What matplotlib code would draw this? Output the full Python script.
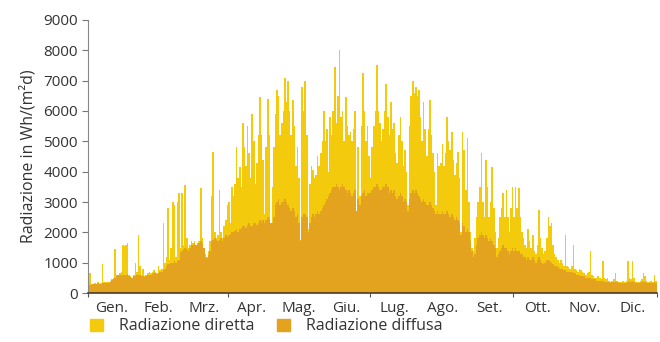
# daily global and diffuse radiation over one year, stacked as filled steps
import numpy as np
import matplotlib.pyplot as plt
from matplotlib.patches import Patch

plt.rcParams['font.family'] = ['Open Sans', 'DejaVu Sans']

mesi = ['Gen.', 'Feb.', 'Mrz.', 'Apr.', 'Mag.', 'Giu.',
        'Lug.', 'Ago.', 'Set.', 'Ott.', 'Nov.', 'Dic.']
giorni_mese = [31, 28, 31, 30, 31, 30, 31, 31, 30, 31, 30, 31]

# top of each daily bar (diretta + diffusa), Wh/(m2 d)
totale = [
    700, 650, 300, 300, 320, 300, 350, 300, 330, 950, 350, 380, 350, 380, 400, 450, 500, 1450, 600, 600,
    650, 700, 1600, 1550, 1600, 1650, 600, 550, 500, 600, 1000,  # gen
    700, 1900, 900, 600, 800, 550, 600, 650, 700, 650, 700, 750, 700, 650, 900, 750, 800, 2300, 1000, 1200,
    2800, 1100, 1500, 3000, 2900, 1200, 3000, 3300,  # feb
    1500, 3300, 1600, 3550, 1800, 1500, 1600, 1700, 1650, 1700, 1600, 1650, 1700, 3450, 1800, 1500, 1300, 1200, 1400, 1700,
    3200, 4650, 2000, 1800, 1900, 3400, 2000, 1800, 2200, 2400, 2900,  # mar
    3000, 2300, 3500, 3200, 3600, 4800, 3800, 4150, 3500, 5600, 4800, 4200, 5500, 4600, 3800, 5900, 5000, 3600, 4300, 5200,
    6450, 5200, 4400, 2600, 4800, 6400, 5200, 2300, 3500, 4800,  # apr
    5900, 6700, 6500, 5200, 5600, 6000, 7100, 6300, 7000, 6000, 5200, 6350, 5500, 4200, 4800, 3800, 1750, 6800, 6000, 7000,
    5200, 2100, 3600, 4200, 4050, 3800, 3900, 4500, 4200, 4600, 5000,  # mag
    6000, 5000, 5400, 4000, 5800, 5200, 6000, 7450, 5600, 6500, 8000, 5800, 6000, 5000, 6450, 5500, 5200, 5300, 5000, 5400,
    6000, 2700, 4800, 3200, 5500, 7250, 6000, 5000, 5500, 4500,  # giu
    3800, 4800, 5500, 6000, 7500, 6000, 5600, 5000, 5400, 6000, 6900, 5800, 5200, 6300, 5400, 5600, 4600, 4300, 5200, 5800,
    5000, 4200, 4700, 4000, 2900, 5500, 6500, 7000, 6600, 6800, 6500,  # lug
    6700, 5800, 5000, 6300, 5400, 4500, 5400, 6350, 5200, 4600, 4000, 2900, 4600, 4200, 4300, 4900, 4200, 4600, 5800, 5000,
    4700, 5300, 4400, 3900, 4300, 4650, 3800, 2000, 5300, 4700, 3400,  # ago
    5100, 3000, 2000, 1500, 1400, 1800, 2500, 3000, 3500, 4600, 3000, 2500, 4400, 3500, 2500, 3000, 4150, 2800, 2000, 1500,
    1800, 2500, 2800, 3300, 2500, 3400, 2500, 2000, 2800, 3500,  # set
    2500, 3500, 2800, 3450, 2500, 2000, 1800, 1600, 1500, 2100, 1700, 1500, 1900, 1400, 1300, 1600, 2750, 1800, 1500, 1300,
    1400, 1800, 2500, 2200, 2300, 1600, 1300, 1200, 1100, 1000, 1100,  # ott
    1000, 900, 1900, 900, 850, 800, 900, 1600, 800, 750, 700, 800, 750, 700, 650, 600, 650, 700, 1400, 600,
    550, 500, 500, 550, 500, 450, 1050, 500, 450, 500,  # nov
    400, 380, 400, 450, 650, 400, 350, 380, 350, 400, 380, 400, 1050, 500, 450, 1050, 500, 380, 350, 380,
    400, 450, 650, 550, 400, 350, 380, 400, 350, 600, 400,  # dic
]

diffusa = [
    300, 280, 280, 300, 300, 300, 320, 300, 300, 320, 320, 330, 330, 340, 350, 420, 450, 500, 550, 580,
    600, 600, 600, 580, 600, 620, 550, 520, 500, 550, 560,
    600, 600, 580, 550, 560, 520, 550, 580, 600, 600, 620, 650, 650, 620, 650, 680, 700, 750, 800, 900,
    950, 950, 1000, 1000, 1050, 1000, 1050, 1100,
    1350, 1400, 1450, 1500, 1450, 1400, 1500, 1600, 1600, 1650, 1600, 1600, 1650, 1700, 1650, 1500, 1200, 1150, 1250, 1400,
    1700, 1750, 1800, 1750, 1700, 1750, 1800, 1700, 1800, 1900, 1850,
    1900, 1950, 2000, 2000, 2050, 2100, 2000, 2100, 2150, 2200, 2200, 2150, 2250, 2300, 2200, 2200, 2300, 2300, 2250, 2300,
    2400, 2350, 2400, 2300, 2400, 2500, 2450, 2300, 2300, 2500,
    2900, 3000, 3100, 2900, 3000, 3000, 3100, 3000, 2900, 2800, 2700, 2800, 2700, 2500, 2600, 2300, 1700, 2500, 2600, 2600,
    2500, 2000, 2300, 2500, 2600, 2500, 2600, 2700, 2600, 2700, 2800,
    2900, 3000, 3100, 3200, 3300, 3400, 3500, 3500, 3600, 3500, 3400, 3500, 3600, 3500, 3400, 3300, 3400, 3300, 3200, 3300,
    3400, 2700, 3100, 2900, 3200, 3300, 3400, 3200, 3300, 3300,
    3300, 3400, 3500, 3500, 3600, 3500, 3400, 3400, 3500, 3500, 3600, 3500, 3300, 3400, 3300, 3400, 3200, 3100, 3200, 3300,
    3200, 3000, 3100, 3000, 2700, 3100, 3300, 3400, 3300, 3400, 3300,
    3200, 3100, 3000, 3100, 3000, 2900, 2900, 3000, 2900, 2800, 2700, 2600, 2700, 2600, 2600, 2700, 2600, 2600, 2700, 2600,
    2500, 2600, 2500, 2400, 2500, 2400, 2300, 1900, 2300, 2200, 2000,
    2100, 2000, 1700, 1400, 1200, 1300, 1600, 1800, 1900, 2000, 1900, 1800, 1900, 1800, 1700, 1800, 1700, 1600, 1500, 1200,
    1300, 1400, 1500, 1600, 1500, 1500, 1400, 1300, 1400, 1500,
    1400, 1500, 1400, 1400, 1300, 1300, 1200, 1200, 1100, 1200, 1100, 1100, 1200, 1100, 1000, 1100, 1200, 1100, 1000, 950,
    1000, 1100, 1100, 1050, 1000, 950, 900, 900, 850, 800, 800,
    800, 750, 750, 700, 700, 700, 700, 650, 650, 600, 600, 600, 550, 550, 550, 500, 500, 500, 500, 450,
    450, 450, 400, 400, 400, 400, 400, 380, 380, 380,
    350, 340, 350, 360, 380, 350, 320, 330, 320, 340, 330, 340, 380, 400, 380, 400, 380, 330, 320, 330,
    340, 350, 380, 380, 340, 320, 330, 340, 320, 350, 330,
]

assert len(totale) == 365 and len(diffusa) == 365

giallo = '#f3cb0c'
arancio = '#e4a31f'

fig = plt.figure(figsize=(6.6, 3.42), dpi=100)
ax = fig.add_axes([0.133, 0.143, 0.862, 0.799])

edges = np.arange(366)
ax.stairs(totale, edges, fill=True, color=giallo, lw=0)
ax.stairs(diffusa, edges, fill=True, color=arancio, lw=0)

ax.set_xlim(0, 365)
ax.set_ylim(0, 9000)
ax.set_yticks(range(0, 9001, 1000))

inizio = np.concatenate([[0], np.cumsum(giorni_mese)])
centri = inizio[:-1] + np.array(giorni_mese) / 2
ax.set_xticks(inizio[[0, 3, 6, 9, 12]])
ax.set_xticklabels([])
ax.set_xticks(centri, minor=True)
ax.set_xticklabels(mesi, minor=True)
ax.tick_params(axis='x', which='major', length=3, color='#555555')
ax.tick_params(axis='x', which='minor', length=0, pad=6, labelsize=11, labelcolor='#333333')
ax.tick_params(axis='y', length=4, color='#777777', labelsize=11, labelcolor='#333333', pad=3)

for s in ['top', 'right']:
    ax.spines[s].set_visible(False)
ax.spines['left'].set_color('#888888')
ax.spines['bottom'].set_color('#4a3b30')
ax.spines['bottom'].set_linewidth(1.2)

ax.set_ylabel('Radiazione in Wh/(m²d)', fontsize=11.5, color='#333333', labelpad=5)

handles = [Patch(color=giallo), Patch(color=arancio)]
fig.legend(handles, ['Radiazione diretta', 'Radiazione diffusa'], loc='lower left',
           bbox_to_anchor=(0.115, -0.02), ncol=2, frameon=False, fontsize=11.5,
           handlelength=0.8, handleheight=0.8, handletextpad=1.0, columnspacing=1.4,
           labelcolor='#333333')

fig.savefig('out.png', dpi=100)
